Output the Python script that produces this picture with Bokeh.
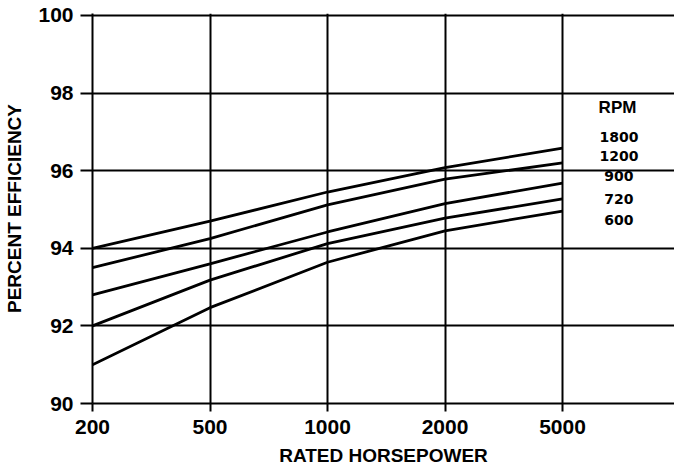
from bokeh.plotting import figure
from bokeh.models import Range1d, FixedTicker, Label
from bokeh.embed import file_html
from bokeh.resources import INLINE

# Data
horsepower = [200, 500, 1000, 2000, 5000]          # evenly spaced tick categories
rpm_labels = ["1800", "1200", "900", "720", "600"]
eff_1800 = [94.0, 94.70, 95.45, 96.08, 96.58]
eff_1200 = [93.5, 94.25, 95.12, 95.78, 96.20]
eff_900 = [92.8, 93.60, 94.42, 95.15, 95.68]
eff_720 = [92.0, 93.18, 94.12, 94.78, 95.27]
eff_600 = [91.0, 92.47, 93.64, 94.45, 94.96]
series = [eff_1800, eff_1200, eff_900, eff_720, eff_600]
y_ticks = [90, 92, 94, 96, 98, 100]

xs = list(range(len(horsepower)))

p = figure(width=674, height=476, output_backend="svg", toolbar_location=None,
           x_range=Range1d(0, 4.953), y_range=Range1d(90, 100.05),
           min_border_left=92, min_border_right=0, min_border_top=13, min_border_bottom=73)
p.outline_line_color = None
p.background_fill_color = "white"

for s in series:
    p.line(xs, s, line_color="black", line_width=2.8)

# axes
for ax in (p.xaxis[0], p.yaxis[0]):
    ax.axis_line_color = "black"
    ax.axis_line_width = 2
    ax.major_tick_line_color = "black"
    ax.major_tick_line_width = 2
    ax.minor_tick_line_color = None
    ax.major_tick_in = 0
    ax.major_label_text_font = "Liberation Sans"
    ax.major_label_text_font_style = "bold"
    ax.major_label_text_font_size = "21px"
    ax.major_label_text_color = "black"
    ax.axis_label_text_font = "Liberation Sans"
    ax.axis_label_text_font_style = "bold"
    ax.axis_label_text_font_size = "19px"
    ax.axis_label_text_color = "black"

p.xaxis.ticker = FixedTicker(ticks=xs)
p.xaxis.major_label_overrides = {i: str(h) for i, h in zip(xs, horsepower)}
p.xaxis.major_tick_out = 8
p.xaxis.major_label_standoff = 8
p.xaxis.axis_label = "RATED HORSEPOWER"
p.xaxis.axis_label_standoff = 8

p.yaxis.ticker = FixedTicker(ticks=y_ticks)
p.yaxis.major_tick_out = 12
p.yaxis.major_label_standoff = 7
p.yaxis.axis_label = "PERCENT EFFICIENCY"
p.yaxis.axis_label_standoff = 10

# grid
p.xgrid.ticker = FixedTicker(ticks=xs)
p.ygrid.ticker = FixedTicker(ticks=y_ticks)
for g in (p.xgrid[0], p.ygrid[0]):
    g.grid_line_color = "black"
    g.grid_line_width = 2
    g.grid_line_alpha = 1

# RPM legend text
p.add_layout(Label(x=4.468, y=97.63, text="RPM", text_align="center", text_baseline="middle",
                   text_font="Liberation Sans", text_font_style="bold", text_font_size="17px",
                   text_color="black"))
label_y = [96.86, 96.37, 95.85, 95.28, 94.74]
for t, yy in zip(rpm_labels, label_y):
    p.add_layout(Label(x=4.48, y=yy, text=t, text_align="center", text_baseline="middle",
                       text_font="DejaVu Sans", text_font_style="bold", text_font_size="14px",
                       text_color="black"))

open("out.html", "w").write(file_html(p, INLINE))
